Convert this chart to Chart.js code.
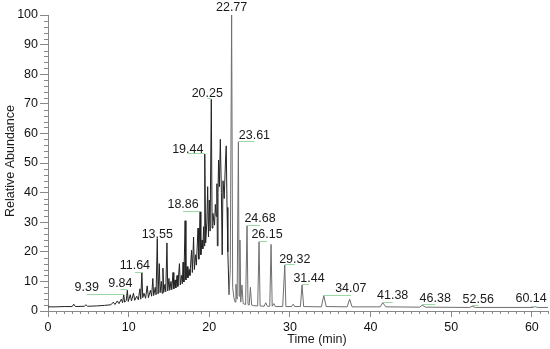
<!DOCTYPE html>
<html>
<head>
<meta charset="utf-8">
<script src="https://cdn.jsdelivr.net/npm/chart.js@4.4.1/dist/chart.umd.min.js"></script>
<style>
html,body{margin:0;padding:0;background:#fff;}
#wrap{width:550px;height:349px;}
</style>
</head>
<body>
<div id="wrap"><canvas id="c" width="550" height="349"></canvas></div>
<script>
// Retention time (min) of each trace point
const times = [
  0, 1, 2, 3.0, 3.2, 3.4, 4.5, 4.7, 4.9, 6,
  7, 7.8, 8.1, 8.3, 8.6, 8.8, 9.1, 9.25, 9.39, 9.5,
  9.7, 9.84, 9.95, 10.2, 10.35, 10.6, 10.75, 11.0, 11.2, 11.4,
  11.5, 11.64, 11.75, 11.9, 12.1, 12.3, 12.45, 12.7, 12.85, 13.0,
  13.1, 13.3, 13.4, 13.55, 13.65, 13.8, 13.9, 14.05, 14.15, 14.25,
  14.35, 14.5, 14.6, 14.75, 14.85, 15.0, 15.1, 15.25, 15.35, 15.5,
  15.6, 15.75, 15.85, 16.0, 16.1, 16.3, 16.4, 16.55, 16.65, 16.75,
  16.85, 17.0, 17.1, 17.25, 17.35, 17.5, 17.6, 17.8, 17.9, 18.05,
  18.15, 18.3, 18.4, 18.6, 18.7, 18.86, 18.95, 19.1, 19.2, 19.3,
  19.38, 19.44, 19.55, 19.7, 19.8, 19.9, 20.0, 20.1, 20.25, 20.35,
  20.45, 20.55, 20.65, 20.75, 20.85, 20.95, 21.0, 21.08, 21.15, 21.25,
  21.37, 21.5, 21.6, 21.7, 21.85, 22.0, 22.1, 22.2, 22.3, 22.45,
  22.6, 22.77, 22.9, 23.05, 23.2, 23.3, 23.45, 23.61, 23.7, 23.8,
  23.9, 24.05, 24.2, 24.5, 24.68, 24.8, 24.95, 25.1, 25.25, 25.5,
  26.0, 26.17, 26.3, 26.8, 27.0, 27.2, 27.5, 27.66, 27.8, 28.0,
  28.2, 29.1, 29.36, 29.5, 30.2, 30.4, 30.6, 31.3, 31.5, 31.7,
  33.9, 34.2, 34.5, 37.1, 37.4, 37.7, 41.2, 41.5, 41.9, 46.1,
  46.4, 46.8, 52.3, 52.6, 53.0, 60.1, 60.4, 60.7, 62
];
// Relative abundance (%) of each trace point
const abundance = [
  1.4, 1.4, 1.5, 1.5, 2.3, 1.5, 1.6, 2.1, 1.6, 1.7,
  1.9, 2.1, 3.0, 2.2, 3.4, 2.5, 4.0, 2.8, 5.5, 3.0,
  3.5, 7.0, 3.2, 5.5, 3.4, 6.0, 3.6, 5.0, 3.8, 7.5,
  4.0, 13.0, 4.5, 6.0, 4.3, 8.5, 4.5, 7.0, 5.0, 11.0,
  5.2, 8.0, 5.5, 24.5, 5.8, 16.0, 6.2, 10.0, 6.0, 14.5,
  6.3, 9.0, 6.5, 23.0, 6.8, 11.0, 7.0, 10.0, 7.2, 13.0,
  7.5, 10.5, 7.8, 12.0, 8.3, 16.0, 8.8, 12.0, 9.2, 16.5,
  9.8, 30.5, 10.5, 15.0, 11.2, 14.0, 12.0, 20.5, 13.0, 25.0,
  14.0, 19.0, 15.5, 28.0, 17.5, 33.5, 19.0, 24.0, 21.0, 28.5,
  22.0, 53.0, 23.0, 30.0, 42.0, 25.0, 37.5, 27.0, 71.5, 28.0,
  33.0, 30.7, 29.0, 36.0, 32.0, 43.0, 22.0, 40.0, 51.0, 42.0,
  58.0, 40.0, 19.0, 44.0, 38.0, 50.0, 55.8, 35.0, 20.0, 5.5,
  14.0, 100, 8.0, 4.5, 3.0, 9.0, 4.0, 57.2, 5.0, 24.0,
  3.0, 8.8, 2.5, 2.2, 28.8, 2.2, 2.0, 8.0, 2.0, 1.8,
  1.7, 23.4, 1.7, 1.6, 2.8, 1.6, 1.6, 22.5, 1.6, 2.5,
  1.5, 1.5, 15.5, 1.5, 1.5, 2.3, 1.5, 1.5, 8.8, 1.5,
  1.4, 5.2, 1.5, 1.4, 4.0, 1.4, 1.4, 2.8, 1.4, 1.3,
  2.0, 1.3, 1.2, 1.6, 1.2, 1.2, 1.5, 1.2, 1.2
];
// Annotated peaks
const peakLabels = ['22.77','20.25','19.44','23.61','18.86','13.55','11.64','9.84','9.39','24.68','26.15','29.32','31.44','34.07','41.38','46.38','52.56','60.14'];
const peakTimes  = [22.77, 20.25, 19.44, 23.61, 18.86, 13.55, 11.64, 9.84, 9.39, 24.68, 26.17, 29.36, 31.5, 34.2, 41.5, 46.4, 52.6, 60.4];
const peakHeights= [100, 71.5, 53.0, 57.2, 33.5, 24.5, 13.0, 7.0, 5.5, 28.8, 23.4, 15.5, 8.8, 5.2, 2.8, 2.0, 1.6, 1.5];
// Axis ticks
const xTicks = [0, 10, 20, 30, 40, 50, 60];
const yTicks = [0, 10, 20, 30, 40, 50, 60, 70, 80, 90, 100];

// label placement offsets (px): [dx, dy] from apex to text centre
const labelOffsets = [[0,-7],[-4,-6],[-17,-5],[16,-6],[-17,-7],[0,-4],[-7,-7],[-7,-7],[-37,-7],[13,-7],[8,-7],[10,-6],[7,-6],[27,-7],[10,-7],[13,-7],[6,-7],[-4,-8]];

const FONT = '"Liberation Sans", Arial, sans-serif';
const FS = 12.5;

const points = times.map((t, i) => ({x: t, y: abundance[i]}));

const decor = {
  id: 'decor',
  afterDraw(chart) {
    const {ctx, chartArea: ca, scales: {x, y}} = chart;
    ctx.save();
    // minor ticks
    ctx.strokeStyle = '#888';
    ctx.lineWidth = 1;
    ctx.beginPath();
    for (let v = 0; v <= 100; v += 2) {
      if (v % 10 === 0) continue;
      const py = Math.round(y.getPixelForValue(v)) + 0.5;
      ctx.moveTo(ca.left - 4, py); ctx.lineTo(ca.left, py);
    }
    for (let v = 0; v <= 62; v += 1) {
      if (v % 10 === 0) continue;
      const px = Math.round(x.getPixelForValue(v)) + 0.5;
      ctx.moveTo(px, ca.bottom); ctx.lineTo(px, ca.bottom + 3);
    }
    ctx.stroke();
    // peak labels
    ctx.font = FS + 'px ' + FONT;
    ctx.textAlign = 'center';
    ctx.textBaseline = 'middle';
    peakLabels.forEach((lab, i) => {
      const ax = x.getPixelForValue(peakTimes[i]);
      const ay = y.getPixelForValue(peakHeights[i]);
      const [dx, dy] = labelOffsets[i];
      const tx = ax + dx, ty = ay + dy;
      if (Math.abs(dx) > 2) {
        ctx.strokeStyle = '#9ad9a6';
        ctx.beginPath();
        ctx.moveTo(tx, Math.round(ay) - 0.5);
        ctx.lineTo(ax, Math.round(ay) - 0.5);
        ctx.stroke();
      }
      ctx.fillStyle = '#1a1a1a';
      ctx.fillText(lab, tx, ty);
    });
    // axis titles
    ctx.fillStyle = '#1a1a1a';
    ctx.font = FS + 'px ' + FONT;
    ctx.fillText('Time (min)', 317, 340);
    ctx.translate(11, 161);
    ctx.rotate(-Math.PI / 2);
    ctx.fillText('Relative Abundance', 0, 0);
    ctx.restore();
  }
};

new Chart(document.getElementById('c'), {
  type: 'line',
  data: {
    datasets: [{
      data: points,
      borderWidth: 1,
      pointRadius: 0,
      tension: 0,
      fill: false,
      borderColor: '#666',
      segment: {
        borderColor: c => (c.p0.parsed.x < 22.4 ? '#222' : '#6e6e6e')
      }
    }]
  },
  options: {
    responsive: false,
    animation: false,
    events: [],
    layout: {padding: {top: 15, right: 2, left: 0, bottom: 0}},
    plugins: {legend: {display: false}, tooltip: {enabled: false}},
    scales: {
      x: {
        type: 'linear', min: 0, max: 62,
        afterBuildTicks: s => { s.ticks = xTicks.map(v => ({value: v})); },
        afterFit: s => { s.height = 38; },
        grid: {display: true, drawOnChartArea: false, drawTicks: true, tickLength: 6, color: '#888'},
        border: {color: '#888', width: 1},
        ticks: {color: '#111', font: {size: FS, family: FONT}, padding: 3, maxRotation: 0}
      },
      y: {
        type: 'linear', min: 0, max: 100,
        afterBuildTicks: s => { s.ticks = yTicks.map(v => ({value: v})); },
        afterFit: s => { s.width = 48; },
        grid: {display: true, drawOnChartArea: false, drawTicks: true, tickLength: 8, color: '#888'},
        border: {color: '#888', width: 1},
        ticks: {color: '#111', font: {size: FS, family: FONT}, padding: 2}
      }
    }
  },
  plugins: [decor]
});
</script>
</body>
</html>
